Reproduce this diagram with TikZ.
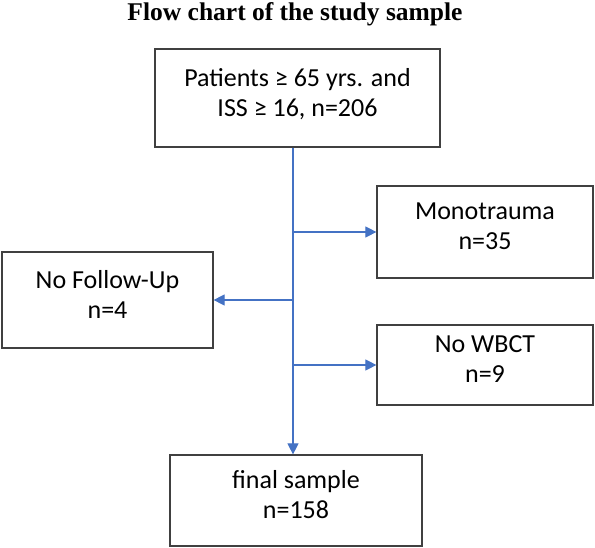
\documentclass[tikz,border=0pt]{standalone}
\usepackage{fontspec}
\setmainfont{Carlito}
\newfontfamily\titlefont{Liberation Serif}
\usetikzlibrary{arrows.meta}
\definecolor{flowblue}{HTML}{4472C4}
\begin{document}
\begin{tikzpicture}[x=1pt,y=-1pt,
  every node/.style={font=\fontsize{26pt}{30pt}\selectfont},
  box/.style={draw=black!75,line width=1.2pt,align=center,inner sep=0pt,text depth=12pt},
  flow/.style={draw=flowblue,line width=1.1pt,-{Triangle[length=11pt,width=11pt]}}]
\useasboundingbox (0,0) rectangle (595,548);
\node[font=\titlefont\bfseries\fontsize{25.5pt}{28pt}\selectfont] (title) at (295,14) {Flow chart of the study sample};
\node[box,minimum width=285pt,minimum height=98pt] (start) at (297.5,98) {Patients ≥ 65 yrs. and\\ISS ≥ 16, n=206};
\node[box,minimum width=216pt,minimum height=92pt] (mono) at (485,232) {Monotrauma\\n=35};
\node[box,minimum width=211pt,minimum height=96pt] (nofu) at (107.5,300) {No Follow-Up\\n=4};
\node[box,minimum width=216pt,minimum height=80pt] (nowbct) at (485,365) {No WBCT\\n=9};
\node[box,minimum width=252pt,minimum height=91pt] (final) at (296,500.5) {final sample\\n=158};
\coordinate (trunk) at ([xshift=-4.5pt]start.south);
% main line
\draw[flow] (trunk) -- (trunk |- final.north);
% exclusions
\draw[flow] (trunk |- mono.west) -- (mono.west);
\draw[flow] (trunk |- nofu.east) -- (nofu.east);
\draw[flow] (trunk |- nowbct.west) -- (nowbct.west);
\end{tikzpicture}
\end{document}
